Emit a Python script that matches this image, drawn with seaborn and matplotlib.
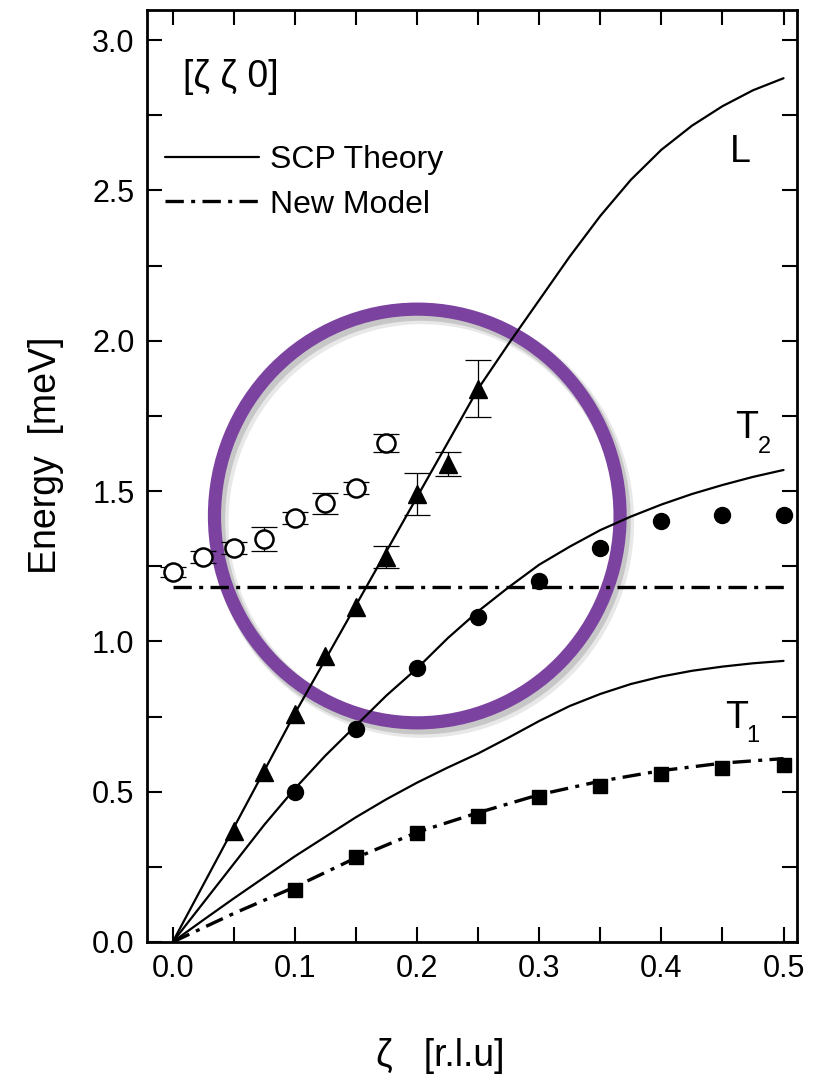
import numpy as np
import pandas as pd
import matplotlib
matplotlib.use("Agg")
import matplotlib.pyplot as plt
import seaborn as sns
from matplotlib.patches import Ellipse
from matplotlib.lines import Line2D
import matplotlib.transforms as mtransforms
from matplotlib.ticker import MultipleLocator

# ---------------- data ----------------
zeta_theory = [0.0, 0.025, 0.05, 0.075, 0.1, 0.125, 0.15, 0.175, 0.2, 0.225, 0.25,
               0.275, 0.3, 0.325, 0.35, 0.375, 0.4, 0.425, 0.45, 0.475, 0.5]
L_theory = [0.0, 0.19, 0.38, 0.57, 0.76, 0.94, 1.12, 1.30, 1.48, 1.66, 1.84,
            1.99, 2.135, 2.28, 2.415, 2.535, 2.635, 2.715, 2.78, 2.833, 2.873]
T2_theory = [0.0, 0.13, 0.26, 0.39, 0.51, 0.62, 0.72, 0.82, 0.91, 1.01, 1.10,
             1.18, 1.255, 1.315, 1.37, 1.415, 1.455, 1.49, 1.52, 1.547, 1.57]
T1_theory = [0.0, 0.073, 0.145, 0.215, 0.285, 0.35, 0.415, 0.475, 0.53, 0.58, 0.627,
             0.68, 0.735, 0.785, 0.825, 0.858, 0.883, 0.902, 0.916, 0.927, 0.935]

zeta_model = [0.0, 0.05, 0.1, 0.15, 0.2, 0.25, 0.3, 0.35, 0.4, 0.45, 0.5]
T1_model = [0.0, 0.095, 0.183, 0.28, 0.365, 0.43, 0.49, 0.535, 0.57, 0.595, 0.61]
flat_model_x = [0.0, 0.5]
flat_model_y = [1.18, 1.18]

open_x = [0.0, 0.025, 0.05, 0.075, 0.1, 0.125, 0.15, 0.175]
open_y = [1.23, 1.28, 1.31, 1.34, 1.41, 1.46, 1.51, 1.66]
open_err = [0.017, 0.02, 0.02, 0.04, 0.02, 0.035, 0.02, 0.03]

tri_x = [0.05, 0.075, 0.1, 0.125, 0.15, 0.175, 0.2, 0.225, 0.25]
tri_y = [0.37, 0.565, 0.76, 0.95, 1.115, 1.28, 1.49, 1.59, 1.84]
tri_err = [0.0, 0.0, 0.0, 0.0, 0.0, 0.036, 0.07, 0.039, 0.095]

circ_x = [0.1, 0.15, 0.2, 0.25, 0.3, 0.35, 0.4, 0.45, 0.5]
circ_y = [0.50, 0.71, 0.91, 1.08, 1.20, 1.31, 1.40, 1.42, 1.42]

sq_x = [0.1, 0.15, 0.2, 0.25, 0.3, 0.35, 0.4, 0.45, 0.5]
sq_y = [0.173, 0.283, 0.362, 0.42, 0.482, 0.52, 0.56, 0.58, 0.59]

x_ticks = [0.0, 0.1, 0.2, 0.3, 0.4, 0.5]
y_ticks = [0.0, 0.5, 1.0, 1.5, 2.0, 2.5, 3.0]

# ---------------- style ----------------
sns.set_theme(style="ticks")
plt.rcParams["font.family"] = ["Liberation Sans", "DejaVu Sans"]
plt.rcParams["mathtext.default"] = "regular"
plt.rcParams["text.color"] = "black"
plt.rcParams["axes.labelcolor"] = "black"
plt.rcParams["xtick.color"] = "black"
plt.rcParams["ytick.color"] = "black"

fig = plt.figure(figsize=(8.34, 10.86), dpi=100)
ax = fig.add_axes([0.1763, 0.1326, 0.7793, 0.8582])

DASHDOT = (0, (5.5, 2.2, 1.2, 2.2))

# highlight circle with soft shadow
circle_center = (0.2002, 1.417)
circle_w, circle_h = 2 * 0.166, 2 * 0.688
for dx, dy, a, lw in [(5, -6, 0.12, 13), (3, -4, 0.2, 11)]:
    sh_tr = mtransforms.offset_copy(ax.transData, fig=fig, x=dx, y=dy, units="dots")
    ax.add_patch(Ellipse(circle_center, circle_w, circle_h, fill=False,
                         edgecolor="#444444", alpha=a, lw=lw, transform=sh_tr, zorder=1))
ax.add_patch(Ellipse(circle_center, circle_w, circle_h, fill=False,
                     edgecolor="#7b42a0", lw=9.5, zorder=1.5))

# theory curves (solid)
sns.lineplot(x=zeta_theory, y=L_theory, ax=ax, color="black", lw=1.6, zorder=3)
sns.lineplot(x=zeta_theory, y=T2_theory, ax=ax, color="black", lw=1.6, zorder=3)
sns.lineplot(x=zeta_theory, y=T1_theory, ax=ax, color="black", lw=1.6, zorder=3)

# new model curves (dash-dot)
sns.lineplot(x=zeta_model, y=T1_model, ax=ax, color="black", lw=2.4,
             linestyle=DASHDOT, zorder=3)
sns.lineplot(x=flat_model_x, y=flat_model_y, ax=ax, color="black", lw=2.4,
             linestyle=DASHDOT, zorder=3)

# error bars
ax.errorbar(open_x, open_y, yerr=open_err, fmt="none", ecolor="black",
            elinewidth=0.9, capsize=9.5, capthick=0.9, zorder=4)
tri_xa, tri_ya, tri_ea = map(np.asarray, (tri_x, tri_y, tri_err))
m = tri_ea > 0
ax.errorbar(tri_xa[m], tri_ya[m], yerr=tri_ea[m], fmt="none", ecolor="black",
            elinewidth=0.9, capsize=9.5, capthick=0.9, zorder=4)

# markers
ax.plot(open_x, open_y, "o", ms=13, mfc="white", mec="black", mew=1.8, ls="none", zorder=5)
ax.plot(tri_x, tri_y, "^", ms=12.5, color="black", ls="none", zorder=5)
ax.plot(circ_x, circ_y, "o", ms=11.5, color="black", ls="none", zorder=5)
ax.plot(sq_x, sq_y, "s", ms=9.5, color="black", ls="none", zorder=5)

# axes
ax.set_xlim(-0.021, 0.511)
ax.set_ylim(0.0, 3.1)
ax.set_xticks(x_ticks)
ax.set_xticklabels([f"{v:.1f}" for v in x_ticks])
ax.set_yticks(y_ticks)
ax.set_yticklabels([f"{v:.1f}" for v in y_ticks])
ax.xaxis.set_minor_locator(MultipleLocator(0.05))
ax.yaxis.set_minor_locator(MultipleLocator(0.25))
for which in ("major", "minor"):
    ax.tick_params(axis="both", which=which, direction="in", length=10.5, width=1.5,
                   top=True, right=True, color="black")
ax.tick_params(axis="both", which="major", labelsize=22, pad=9, labelcolor="black")
for sp in ax.spines.values():
    sp.set_linewidth(2.0)
    sp.set_color("black")
    sp.set_visible(True)

ax.set_xlabel("\u03b6   [r.l.u]", fontsize=27, color="black")
ax.xaxis.set_label_coords(0.451, -0.103)
ax.set_ylabel("Energy  [meV]", fontsize=27, color="black")
ax.yaxis.set_label_coords(-0.128, 0.5225)

# annotations
ax.text(0.0084, 2.843, "[\u03b6 \u03b6 0]", fontsize=27, ha="left", va="baseline")
ax.text(0.456, 2.594, "L", fontsize=27, ha="left", va="baseline")
ax.text(0.460, 1.676, "T", fontsize=27, ha="left", va="baseline")
ax.text(0.4786, 1.626, "2", fontsize=17, ha="left", va="baseline")
ax.text(0.4525, 0.712, "T", fontsize=27, ha="left", va="baseline")
ax.text(0.4696, 0.665, "1", fontsize=17, ha="left", va="baseline")

# legend
handles = [Line2D([], [], color="black", lw=1.6, label="SCP Theory"),
           Line2D([], [], color="black", lw=2.4, linestyle=DASHDOT, label="New Model")]
ax.legend(handles=handles, loc="upper left", bbox_to_anchor=(0.028, 0.855),
          frameon=False, fontsize=23, handlelength=2.95, handletextpad=0.32,
          borderpad=0, borderaxespad=0, labelspacing=0.45)

fig.savefig("out.png", dpi=100)
